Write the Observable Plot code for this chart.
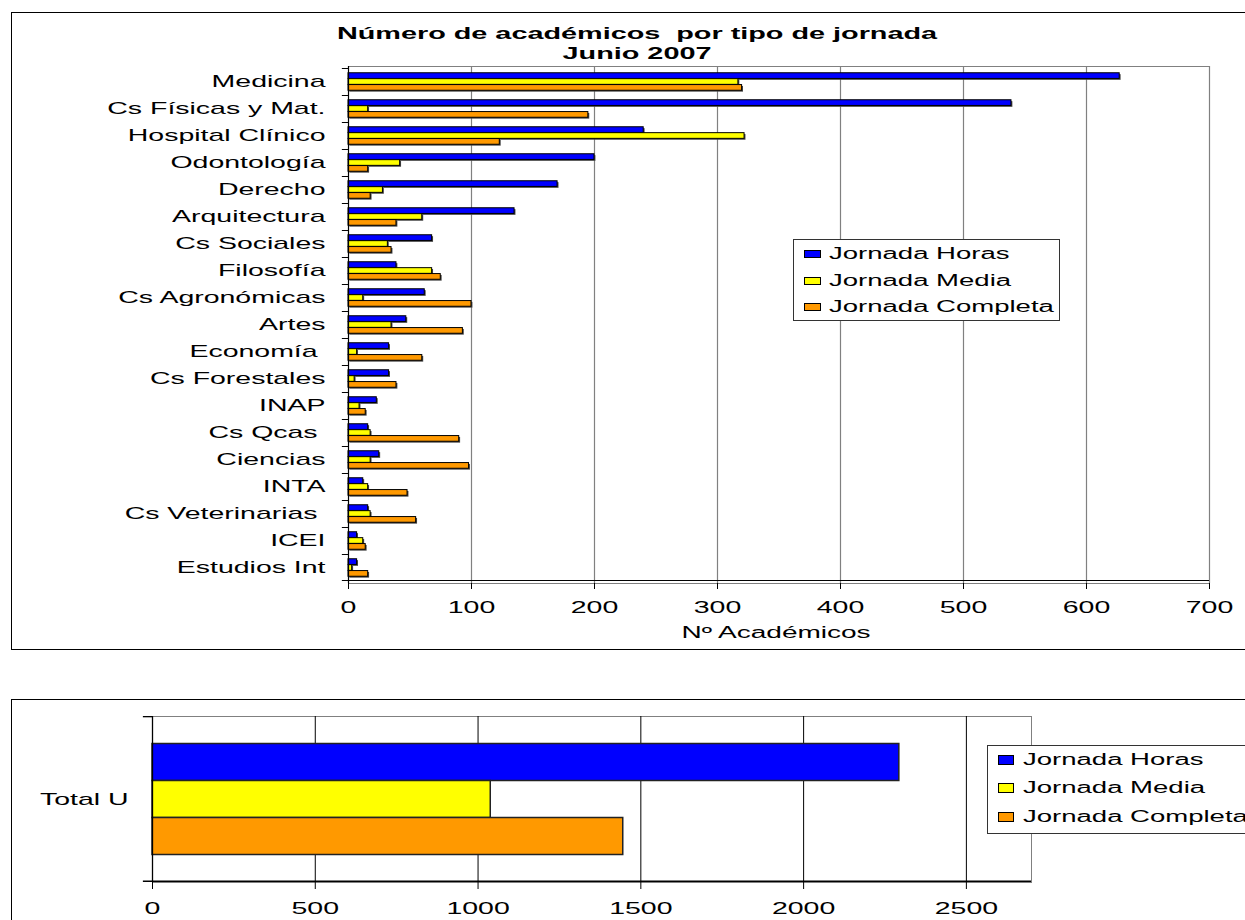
<!DOCTYPE html>
<html><head><meta charset="utf-8">
<script src="https://cdn.jsdelivr.net/npm/d3@7"></script>
<script src="https://cdn.jsdelivr.net/npm/@observablehq/plot@0.6"></script>
<style>
body{margin:0;background:#fff;width:1245px;height:920px;overflow:hidden;position:relative;font-family:"Liberation Sans",Arial,sans-serif;color:#000;}
.box{position:absolute;border:1.5px solid #000;box-sizing:border-box;}
.abs{position:absolute;}
.st{position:absolute;white-space:pre;font-size:16px;line-height:16px;}
.lg{position:absolute;border:1px solid #333;background:#fff;box-sizing:border-box;}
.sw{position:absolute;border:1px solid #000;box-sizing:border-box;}
svg text{white-space:pre;}
</style></head><body>
<div class="box" style="left:11px;top:12px;width:1260px;height:638px"></div>
<div class="box" style="left:11px;top:699px;width:1260px;height:260px"></div>
<div id="c1" class="abs" style="left:0;top:60px"></div>
<div id="c2" class="abs" style="left:0;top:705px"></div>
<div id="extra"></div>
<script>
// ---- data (top chart) ----
const categories = ["Medicina","Cs Físicas y Mat.","Hospital Clínico","Odontología","Derecho","Arquitectura","Cs Sociales","Filosofía","Cs Agronómicas","Artes","Economía ","Cs Forestales","INAP","Cs Qcas ","Ciencias","INTA","Cs Veterinarias ","ICEI","Estudios Int"];
const horas    = [627,539,240,200,170,135,68,39,62,47,33,33,23,16,25,12,16,7,7];
const media    = [317,16,322,42,28,60,32,68,12,35,7,5,9,18,18,16,18,12,3];
const completa = [320,195,123,16,18,39,35,75,100,93,60,39,14,90,98,48,55,14,16];
const xTicks1 = [0,100,200,300,400,500,600,700];
// ---- data (bottom chart) ----
const categories2 = ["Total U"];
const horasT = [2294];
const mediaT = [1039];
const completaT = [1446];
const xTicks2 = [0,500,1000,1500,2000,2500];
const seriesNames = ["Jornada Horas","Jornada Media","Jornada Completa"];
const seriesColors = ["#0000ff","#ffff00","#ff9900"];
const title = ["Número de académicos  por tipo de jornada","Junio 2007"];
const xLabel1 = "Nº Académicos";

function stretch(svg, sx) {
  svg.querySelectorAll("text").forEach(t => {
    const tr = t.getAttribute("transform") || "";
    t.setAttribute("transform", `${tr} scale(${sx},1)`);
  });
}

// ---- top chart ----
const H1 = 600, mT1 = 6, mB1 = 77;
const bw1 = (H1 - mT1 - mB1) / categories.length;
const barH1 = 5.9;
const inset1 = (bw1 - barH1) / 2;
const rows1 = categories.map((c, i) => ({c, h: horas[i], m: media[i], f: completa[i]}));
const keys = ["h","m","f"];
const shifts1 = [-5.9, 0, 5.9];

const marks1 = [
  Plot.frame({stroke: "#808080"}),
  Plot.ruleX(xTicks1.slice(1), {stroke: "#808080", strokeWidth: 1.2})
];
keys.forEach((k, j) => {
  marks1.push(Plot.barX(rows1, {y: "c", x1: 0, x2: k, insetTop: inset1, insetBottom: inset1, dy: shifts1[j] + 1.4, dx: 1.4, fill: "#444"}));
});
keys.forEach((k, j) => {
  marks1.push(Plot.barX(rows1, {y: "c", x1: 0, x2: k, insetTop: inset1, insetBottom: inset1, dy: shifts1[j], fill: seriesColors[j], stroke: "#000", strokeWidth: 1}));
});
marks1.push(
  Plot.ruleX([0], {stroke: "#000", strokeWidth: 1.2}),
  Plot.barX(categories, {y: d => d, x1: -5, x2: 0, insetBottom: bw1 - 1.2, fill: "#000"}),
  Plot.barX(categories.slice(-1), {y: d => d, x1: -5, x2: 700, insetTop: bw1 - 1.2, fill: "#000"}),
  Plot.axisY({tickSize: 0, tickPadding: 23, label: null}),
  Plot.axisX({ticks: xTicks1, tickSize: 6, tickPadding: 12, tickFormat: d => String(d), label: null})
);

const p1 = Plot.plot({
  width: 1245, height: H1,
  marginLeft: 348, marginRight: 36, marginTop: mT1, marginBottom: mB1,
  x: {domain: [0, 700], label: null},
  y: {domain: categories, padding: 0, label: null},
  style: {fontSize: "16px", fontFamily: "Liberation Sans, Arial, sans-serif", color: "#000", background: "transparent", overflow: "visible"},
  marks: marks1
});
stretch(p1, 1.78);
document.getElementById("c1").appendChild(p1);

// ---- bottom chart ----
const H2 = 230, mT2 = 11, mB2 = 53;
const bw2 = H2 - mT2 - mB2;
const barH2 = 37;
const inset2 = (bw2 - barH2) / 2;
const rows2 = categories2.map((c, i) => ({c, h: horasT[i], m: mediaT[i], f: completaT[i]}));
const shifts2 = [-37, 0, 37];
const marks2 = [
  Plot.frame({stroke: "#808080"}),
  Plot.ruleX(xTicks2.slice(1), {stroke: "#000", strokeWidth: 1})
];
keys.forEach((k, j) => {
  marks2.push(Plot.barX(rows2, {y: "c", x1: 0, x2: k, insetTop: inset2, insetBottom: inset2, dy: shifts2[j], fill: seriesColors[j], stroke: "#222", strokeWidth: 1.5}));
});
marks2.push(
  Plot.ruleX([0], {stroke: "#000", strokeWidth: 1.3}),
  Plot.barX(categories2, {y: d => d, x1: -28, x2: 0, insetBottom: bw2 - 1.3, fill: "#000"}),
  Plot.barX(categories2, {y: d => d, x1: -28, x2: 2700, insetTop: bw2 - 1.5, fill: "#000"}),
  Plot.axisY({tickSize: 0, tickPadding: 24, label: null}),
  Plot.axisX({ticks: xTicks2, tickSize: 7, tickPadding: 13, tickFormat: d => String(d), label: null})
);
const p2 = Plot.plot({
  width: 1245, height: H2,
  marginLeft: 152, marginRight: 214, marginTop: mT2, marginBottom: mB2,
  x: {domain: [0, 2700], label: null},
  y: {domain: categories2, padding: 0, label: null},
  style: {fontSize: "16px", fontFamily: "Liberation Sans, Arial, sans-serif", color: "#000", background: "transparent", overflow: "visible"},
  marks: marks2
});
stretch(p2, 1.78);
document.getElementById("c2").appendChild(p2);

// ---- title, axis label, legends (HTML) ----
const ex = document.getElementById("extra");
function addText(txt, left, top, sx, opts = {}) {
  const d = document.createElement("div");
  d.className = "st";
  d.textContent = txt;
  d.style.left = left + "px";
  d.style.top = top + "px";
  if (opts.bold) d.style.fontWeight = "bold";
  if (opts.center) {
    d.style.transformOrigin = "50% 50%";
    d.style.transform = `translate(-50%,-50%) scaleX(${sx})`;
  } else {
    d.style.transformOrigin = "0 50%";
    d.style.transform = `translateY(-50%) scaleX(${sx})`;
  }
  ex.appendChild(d);
}
addText(title[0], 637, 34, 1.8, {bold: true, center: true});
addText(title[1], 637, 54, 1.8, {bold: true, center: true});
addText(xLabel1, 776, 633, 1.75, {center: true});

function legend(box, rowsY, swX, swW, swH, txX, sx) {
  const b = document.createElement("div");
  b.className = "lg";
  Object.assign(b.style, {left: box[0] + "px", top: box[1] + "px", width: box[2] + "px", height: box[3] + "px"});
  ex.appendChild(b);
  seriesNames.forEach((n, i) => {
    const s = document.createElement("div");
    s.className = "sw";
    Object.assign(s.style, {left: swX + "px", top: (rowsY[i] - swH / 2) + "px", width: swW + "px", height: swH + "px", background: seriesColors[i]});
    ex.appendChild(s);
    addText(n, txX, rowsY[i], sx);
  });
}
legend([793, 239, 267, 82], [254, 281, 307], 804, 17, 8, 829, 1.72);
legend([987, 745, 300, 89], [760, 788, 817], 998, 16, 10, 1023, 1.72);
</script>
</body></html>
